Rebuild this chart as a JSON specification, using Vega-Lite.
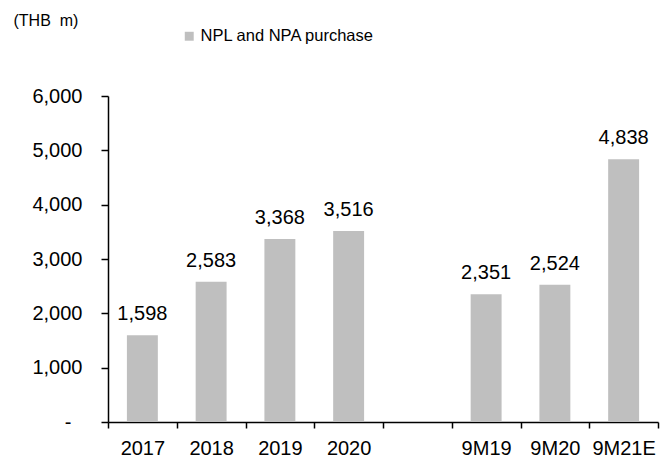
{
  "$schema": "https://vega.github.io/schema/vega-lite/v6.json",
  "autosize": "none",
  "width": 550,
  "height": 326,
  "padding": {"left": 108, "top": 96, "right": 14, "bottom": 39},
  "background": "white",
  "config": {
    "font": "Liberation Sans",
    "view": {"stroke": null},
    "axis": {"labelFont": "Liberation Sans", "labelColor": "black", "domainColor": "black", "tickColor": "black", "grid": false}
  },
  "data": {
    "values": [
      {"period": "2017", "value": 1598},
      {"period": "2018", "value": 2583},
      {"period": "2019", "value": 3368},
      {"period": "2020", "value": 3516},
      {"period": "9M19", "value": 2351},
      {"period": "9M20", "value": 2524},
      {"period": "9M21E", "value": 4838}
    ]
  },
  "encoding": {
    "x": {
      "field": "period",
      "type": "nominal",
      "sort": null,
      "scale": {"domain": ["2017", "2018", "2019", "2020", " ", "9M19", "9M20", "9M21E"], "paddingInner": 0, "paddingOuter": 0},
      "axis": {"title": null, "labelAngle": 0, "labelFontSize": 20, "tickBand": "extent", "tickSize": 6, "labelPadding": 10, "domainWidth": 1.5, "tickWidth": 1.5}
    },
    "y": {
      "field": "value",
      "type": "quantitative",
      "scale": {"domain": [0, 6000], "nice": false},
      "axis": {
        "title": "(THB\u00a0 m)",
        "titleAngle": 0,
        "titleX": -95,
        "titleY": -84,
        "titleAlign": "left",
        "titleBaseline": "top",
        "titleFontSize": 16,
        "titleFontWeight": "normal",
        "titleColor": "black",
        "values": [0, 1000, 2000, 3000, 4000, 5000, 6000],
        "labelExpr": "datum.value == 0 ? '-' : format(datum.value, ',')",
        "labelFontSize": 20,
        "tickSize": 7,
        "labelPadding": {"condition": {"test": "datum.value === 0", "value": 30}, "value": 19},
        "domainWidth": 1.5,
        "tickWidth": 1.5
      }
    }
  },
  "layer": [
    {
      "mark": {"type": "bar", "width": {"band": 0.45}},
      "encoding": {
        "color": {
          "datum": "NPL and NPA purchase",
          "scale": {"range": ["#bfbfbf"]},
          "legend": {
            "title": null,
            "orient": "none",
            "legendX": 73,
            "legendY": -68,
            "symbolType": "square",
            "symbolSize": 80,
            "labelFontSize": 16.5,
            "labelColor": "black",
            "labelOffset": 3,
            "labelLimit": 400
          }
        }
      }
    },
    {
      "mark": {"type": "text", "baseline": "alphabetic", "dy": -15, "fontSize": 20, "color": "black"},
      "encoding": {
        "text": {"field": "value", "type": "quantitative", "format": ","}
      }
    }
  ]
}
